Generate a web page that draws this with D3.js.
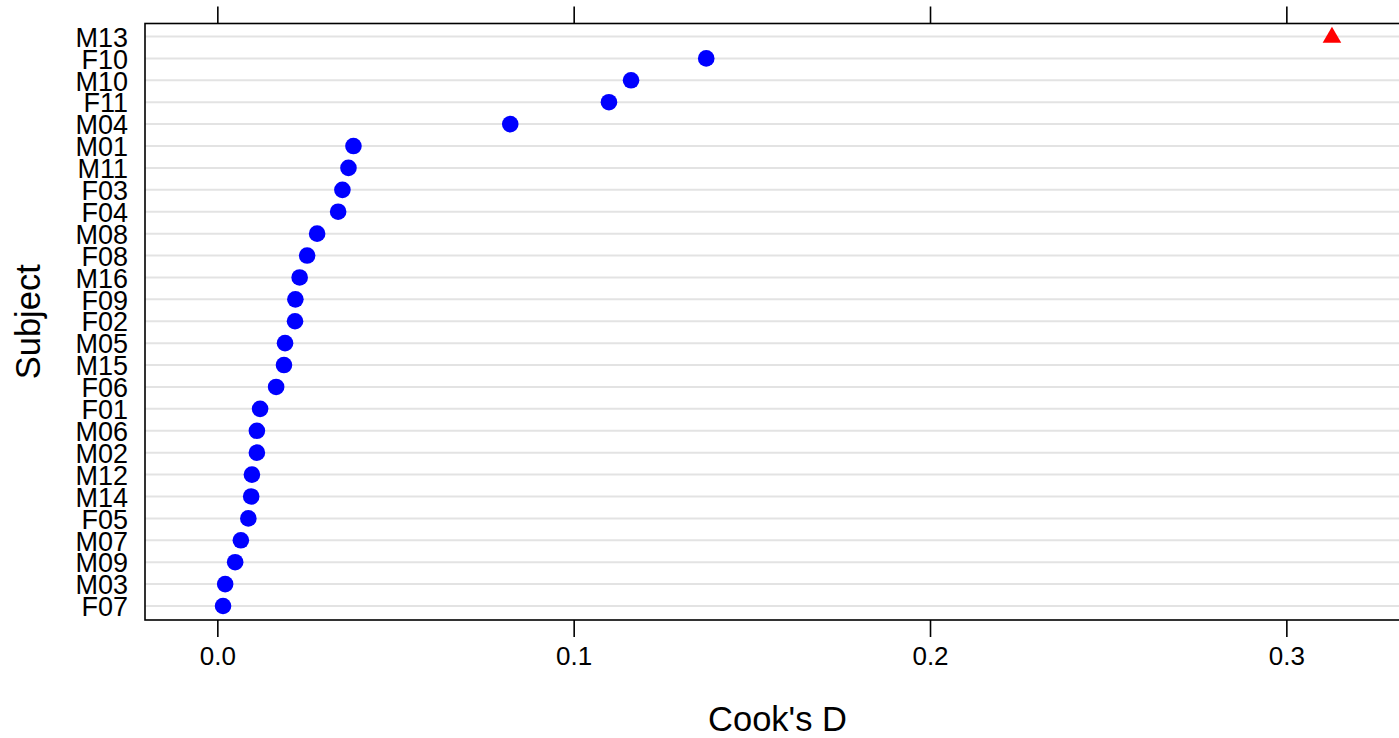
<!DOCTYPE html>
<html><head><meta charset="utf-8">
<script src="https://cdn.jsdelivr.net/npm/d3@7"></script>
<style>html,body{margin:0;padding:0;background:#fff;overflow:hidden}</style>
</head><body>
<svg id="c" width="1399" height="738"></svg>
<script>
const subjects = ["M13","F10","M10","F11","M04","M01","M11","F03","F04","M08","F08","M16","F09","F02","M05","M15","F06","F01","M06","M02","M12","M14","F05","M07","M09","M03","F07"];
const cooksD = [0.3128,0.1372,0.1161,0.1099,0.0822,0.0382,0.0368,0.0351,0.0339,0.0280,0.0252,0.0231,0.0219,0.0218,0.0190,0.0187,0.0165,0.0120,0.0111,0.0111,0.0097,0.0095,0.0087,0.0066,0.0050,0.0022,0.0016];
const outlier = ["M13"];
const xTicks = [0.0, 0.1, 0.2, 0.3];
const xTitle = "Cook's D";
const yTitle = "Subject";

const svg = d3.select("#c");
const L = 145, R = 1410, T = 23.5, B = 620;
const x = d3.scaleLinear().domain([-0.0203, 0.3347]).range([L, R]);
const y = d3.scalePoint().domain(subjects).range([36.5, 606]);
const font = "'Liberation Sans', Arial, Helvetica, sans-serif";

// grid lines
svg.append("g").selectAll("line").data(subjects).join("line")
  .attr("x1", L).attr("x2", R).attr("y1", d => y(d)).attr("y2", d => y(d))
  .attr("stroke", "#e3e3e3").attr("stroke-width", 2);

// frame
svg.append("rect").attr("x", L).attr("y", T).attr("width", R - L).attr("height", B - T)
  .attr("fill", "none").attr("stroke", "#000").attr("stroke-width", 1.6);

// bottom axis
const bAxis = d3.axisBottom(x).tickValues(xTicks).tickFormat(d3.format(".1f")).tickSize(17).tickPadding(10);
const gb = svg.append("g").attr("transform", `translate(0,${B})`).call(bAxis);
gb.select(".domain").remove();
gb.selectAll(".tick line").attr("stroke", "#000").attr("stroke-width", 1.6);
gb.selectAll(".tick text").attr("font-family", font).attr("font-size", 26).attr("fill", "#000");

// top axis (ticks only)
const tAxis = d3.axisTop(x).tickValues(xTicks).tickFormat("").tickSize(17);
const gt = svg.append("g").attr("transform", `translate(0,${T})`).call(tAxis);
gt.select(".domain").remove();
gt.selectAll(".tick line").attr("stroke", "#000").attr("stroke-width", 1.6);

// left axis labels
const lAxis = d3.axisLeft(y).tickSize(0).tickPadding(17);
const gl = svg.append("g").attr("transform", `translate(${L},0)`).call(lAxis);
gl.select(".domain").remove();
gl.selectAll(".tick text").attr("font-family", font).attr("font-size", 27).attr("fill", "#000").attr("dy", "0.36em");

// points
const data = subjects.map((s, i) => ({s, v: cooksD[i]}));
svg.append("g").selectAll("circle").data(data.filter(d => !outlier.includes(d.s))).join("circle")
  .attr("cx", d => x(d.v)).attr("cy", d => y(d.s)).attr("r", 8.3).attr("fill", "#0000ff");
const tri = d3.symbol().type(d3.symbolTriangle).size(150);
svg.append("g").selectAll("path").data(data.filter(d => outlier.includes(d.s))).join("path")
  .attr("d", tri).attr("transform", d => `translate(${x(d.v)},${y(d.s) + 1})`).attr("fill", "#ff0000");

// titles
svg.append("text").attr("x", (L + R) / 2).attr("y", 731).attr("text-anchor", "middle")
  .attr("font-family", font).attr("font-size", 34.5).attr("fill", "#000").text(xTitle);
svg.append("text").attr("transform", `translate(40,${(T + B) / 2}) rotate(-90)`).attr("text-anchor", "middle")
  .attr("font-family", font).attr("font-size", 34.5).attr("fill", "#000").text(yTitle);
</script>
</body></html>
